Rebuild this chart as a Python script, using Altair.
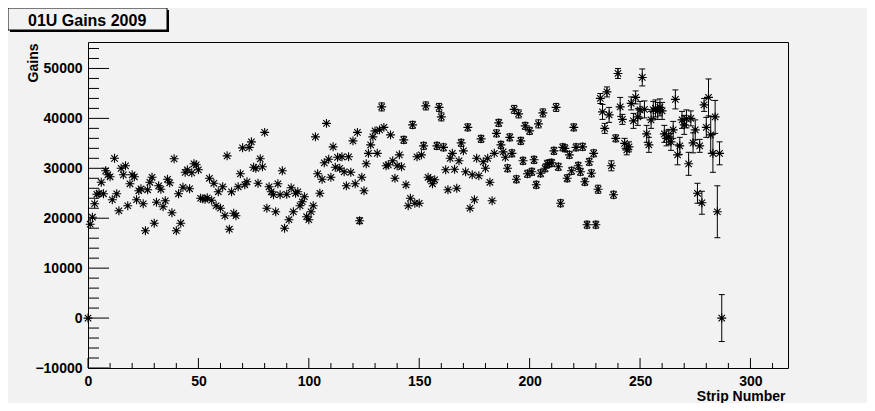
import altair as alt
import pandas as pd

# ---------------- data ----------------
gains = [
    # strips 0-45
    0, 18800, 20200, 22900, 24800, 25000, 27200, 24900, 29500, 28700,
    28300, 23700, 32000, 24900, 21500, 30000, 28700, 30500, 22500, 26900,
    28700, 28300, 23700, 25500, 25900, 22900, 17500, 25700, 27200, 28200,
    19000, 23200, 26500, 25800, 22300, 23500, 27800, 27100, 21100, 31900,
    17500, 24900, 19000, 26200, 29200, 29700,
    # strips 46-93
    25900, 29100, 30900, 30700, 29700, 24000, 23900, 23800, 24100, 28000,
    23600, 27000, 22500, 25300, 22000, 26300, 20500, 32500, 17800, 25300,
    21000, 20500, 26300, 28900, 34100, 26700, 27300, 34200, 35300, 30200,
    30000, 27000, 31900, 30300, 37200, 22000, 26300, 25300, 24700, 21300,
    26900, 24700, 29500, 18000, 24800, 19700, 26100, 21300,
    # strips 94-141
    25000, 25300, 22500, 23300, 24300, 20300, 19700, 21300, 22500, 36300,
    28900, 25000, 27800, 31100, 39000, 31800, 28200, 34300, 30200, 32200,
    30000, 32300, 29300, 26500, 32300, 29200, 35500, 26900, 37200, 19500,
    28200, 25500, 30900, 33000, 34700, 36300, 37500, 33000, 37700, 42300,
    38200, 30500, 30700, 36700, 31500, 28000, 30500, 32700,
    # strips 142-189
    30300, 35700, 26700, 22500, 24000, 38700, 23000, 32300, 23000, 32700,
    34500, 42500, 28200, 27800, 26900, 27700, 34500, 42200, 40300, 34200,
    29700, 25700, 32000, 33000, 29800, 26000, 31500, 35100, 33500, 29300,
    38200, 22000, 28700, 23700, 32000, 28500, 35900, 31300, 30000, 32000,
    27200, 23500, 33000, 37000, 39100, 34700, 33300, 32200,
    # strips 190-235
    30000, 36200, 33000, 41800, 27800, 40900, 35500, 31500, 38500, 28900,
    37500, 29300, 31700, 26700, 38900, 29000, 41100, 30000, 30900, 31000,
    31100, 33500, 42200, 30300, 23000, 34200, 34000, 28000, 32700, 29500,
    38200, 34200, 30500, 29300, 34300, 27300, 18700, 31300, 29000, 33000,
    18700, 25800, 44000, 41300, 38000, 45300,
    # strips 236-281
    40700, 30500, 24700, 36000, 49000, 42300, 39800, 35000, 33700, 34300,
    43000, 39500, 44200, 40300, 41700, 48200, 41800, 36900, 34700, 39700,
    41700, 42000, 41500, 42200, 41500, 36900, 36000, 36300, 35300, 37700,
    43800, 32700, 34500, 39700, 38700, 39900, 30900, 40000, 35100, 37700,
    25000, 34500, 23100, 42700, 38200, 44200,
    # strips 282-287
    36700, 33000, 40300, 21300, 33000, 0,
]

errors = [
    # strips 0-45
    0, 0, 0, 0, 0, 0, 0, 0, 0, 0,
    0, 0, 0, 0, 0, 0, 0, 0, 0, 0,
    0, 0, 0, 0, 0, 0, 0, 0, 0, 0,
    0, 0, 0, 0, 0, 0, 0, 0, 0, 0,
    0, 0, 0, 0, 0, 0,
    # strips 46-93
    0, 0, 0, 0, 0, 0, 0, 0, 0, 0,
    0, 0, 0, 0, 0, 0, 0, 0, 0, 0,
    0, 0, 0, 0, 0, 0, 0, 0, 0, 0,
    0, 0, 0, 0, 0, 0, 0, 0, 0, 0,
    0, 0, 0, 0, 0, 0, 0, 0,
    # strips 94-141
    0, 0, 0, 0, 0, 0, 0, 0, 0, 0,
    0, 0, 0, 0, 0, 0, 0, 0, 0, 0,
    0, 0, 0, 0, 0, 0, 0, 0, 0, 600,
    0, 0, 0, 0, 0, 0, 0, 0, 0, 800,
    0, 0, 0, 0, 0, 0, 0, 0,
    # strips 142-189
    0, 700, 0, 0, 0, 700, 0, 0, 0, 0,
    700, 800, 0, 0, 0, 0, 700, 800, 800, 700,
    0, 0, 0, 0, 0, 0, 0, 700, 0, 0,
    700, 0, 0, 0, 0, 0, 700, 0, 0, 0,
    0, 0, 0, 700, 700, 700, 0, 0,
    # strips 190-235
    700, 700, 700, 800, 700, 800, 700, 700, 700, 700,
    700, 700, 700, 700, 800, 700, 800, 700, 700, 700,
    700, 700, 800, 700, 700, 700, 700, 700, 700, 700,
    700, 700, 700, 700, 700, 700, 700, 700, 700, 700,
    700, 800, 1000, 1500, 1000, 1000,
    # strips 236-281
    1500, 1000, 700, 700, 1000, 1900, 1000, 1000, 1000, 1000,
    1300, 1500, 1300, 1700, 1700, 1700, 1700, 1700, 1500, 1700,
    1700, 1700, 1700, 1700, 1700, 1700, 1500, 1500, 1700, 1700,
    1900, 2000, 1700, 1700, 1900, 1800, 2300, 1500, 2000, 2000,
    2000, 1300, 2300, 1300, 2000, 3700,
    # strips 282-287
    3700, 3800, 3300, 5200, 2300, 4700,
]

strips = list(range(len(gains)))

x_major = [0, 50, 100, 150, 200, 250, 300]
x_minor = [v for v in range(10, 320, 10) if v % 50 != 0]
y_major = [-10000, 0, 10000, 20000, 30000, 40000, 50000]
y_minor = [v for v in range(-8000, 56000, 2000) if v % 10000 != 0]

title_text = "01U Gains 2009"
x_title = "Strip Number"
y_title = "Gains"

# ---------------- chart ----------------
df = pd.DataFrame({"strip": strips, "gain": gains, "err": errors})
df["lo"] = df["gain"] - df["err"]
df["hi"] = df["gain"] + df["err"]

W, H = 700, 326
FONT = "Liberation Sans"
BG = "#f2f2f2"
STAR = "M-1,0L1,0M0,-1L0,1M-0.72,-0.72L0.72,0.72M-0.72,0.72L0.72,-0.72"

xs = alt.Scale(domain=[0, 317], nice=False, zero=False)
ys = alt.Scale(domain=[-10000, 55300], nice=False, zero=False)

xaxis = alt.Axis(
    values=x_major, format="d", title=x_title, domain=False, ticks=False, grid=False,
    labelFont=FONT, labelFontWeight="bold", labelFontSize=14, labelColor="black",
    labelPadding=6, labelOverlap=False, labelFlush=False,
    titleFont=FONT, titleFontWeight="bold", titleFontSize=14, titleColor="black",
    titleX=697, titleY=28, titleAlign="right", titleBaseline="middle",
)
yaxis = alt.Axis(
    values=y_major, format="d", title=y_title, domain=False, ticks=False, grid=False,
    labelFont=FONT, labelFontWeight="bold", labelFontSize=14, labelColor="black",
    labelPadding=6, labelOverlap=False, labelFlush=False,
    titleFont=FONT, titleFontWeight="bold", titleFontSize=14, titleColor="black",
    titleAngle=270, titleX=-55, titleY=1, titleAlign="right", titleBaseline="middle",
)


def X(field):
    return alt.X(field, type="quantitative", scale=xs, axis=xaxis)


def Y(field):
    return alt.Y(field, type="quantitative", scale=ys, axis=yaxis)


base = alt.Chart(df)
has_err = base.transform_filter("datum.err > 0")

bars = has_err.mark_rule(color="black", strokeWidth=1).encode(
    x=X("strip"), y=Y("lo"), y2="hi:Q")
cap_lo = has_err.mark_tick(orient="horizontal", size=6, thickness=1, color="black", opacity=1).encode(
    x=X("strip"), y=Y("lo"))
cap_hi = has_err.mark_tick(orient="horizontal", size=6, thickness=1, color="black", opacity=1).encode(
    x=X("strip"), y=Y("hi"))
pts = base.mark_point(shape=STAR, filled=False, color="black", strokeWidth=1.1,
                      size=80, opacity=1).encode(x=X("strip"), y=Y("gain"))

xt_major = alt.Chart(pd.DataFrame({"strip": x_major})).mark_rule(color="black", strokeWidth=1).encode(
    x=X("strip"), y=alt.value(H), y2=alt.value(H - 10))
xt_minor = alt.Chart(pd.DataFrame({"strip": x_minor})).mark_rule(color="black", strokeWidth=1).encode(
    x=X("strip"), y=alt.value(H), y2=alt.value(H - 5))
yt_major = alt.Chart(pd.DataFrame({"gain": y_major})).mark_rule(color="black", strokeWidth=1).encode(
    y=Y("gain"), x=alt.value(0), x2=alt.value(21))
yt_minor = alt.Chart(pd.DataFrame({"gain": y_minor})).mark_rule(color="black", strokeWidth=1).encode(
    y=Y("gain"), x=alt.value(0), x2=alt.value(11))

one = pd.DataFrame({"t": [title_text]})
shadow = alt.Chart(one).mark_rect(color="black").encode(
    x=alt.value(-78), x2=alt.value(81), y=alt.value(-32), y2=alt.value(-10))
box = alt.Chart(one).mark_rect(fill=BG, stroke="black", strokeWidth=1).encode(
    x=alt.value(-80), x2=alt.value(79), y=alt.value(-34), y2=alt.value(-12))
txt = alt.Chart(one).mark_text(font=FONT, fontWeight="bold", fontSize=16, align="left",
                               baseline="alphabetic", color="black").encode(
    x=alt.value(-60), y=alt.value(-16), text="t:N")

chart = alt.layer(
    xt_major, xt_minor, yt_major, yt_minor, bars, cap_lo, cap_hi, pts, shadow, box, txt
).properties(
    width=W, height=H,
    padding={"left": 80, "top": 34, "right": 79, "bottom": 35},
    autosize=alt.AutoSizeParams(type="none"),
).configure(background=BG).configure_view(stroke="black", strokeWidth=1, fill=BG)

chart.save("out.html", embed_options={"renderer": "svg", "actions": False})
